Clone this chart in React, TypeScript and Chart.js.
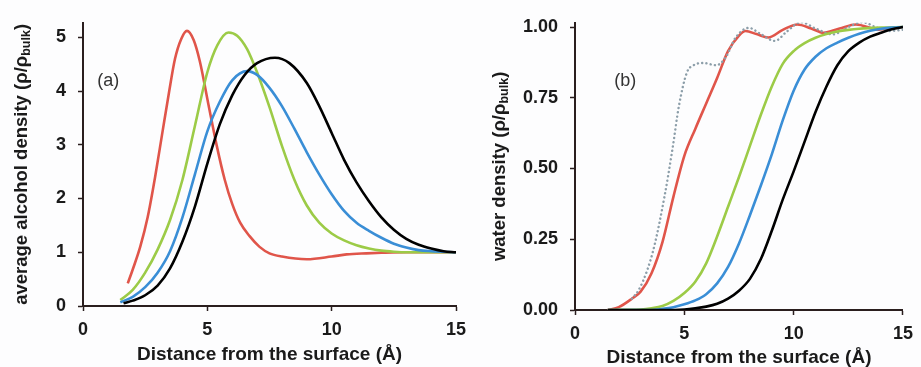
import React, { useEffect, useRef } from "react";
import { Chart, registerables } from "chart.js";

Chart.register(...registerables);

// ---------- shared ticks ----------
const X_TICKS = [0, 5, 10, 15];
const ALC_Y_TICKS = [0, 1, 2, 3, 4, 5];
const WAT_Y_TICKS = [0, 0.25, 0.5, 0.75, 1.0];

// ---------- Panel (a): average alcohol density ----------
const ALC_RED_X = [1.8, 2.0, 2.3, 2.6, 2.9, 3.2, 3.45, 3.7, 3.95, 4.18, 4.45, 4.7, 5.04, 5.38, 5.7, 6.0, 6.32, 6.7, 7.1, 7.5, 8.0, 9.0, 10.0, 10.6, 11.4, 12.0, 13.0, 14.0, 15.0];
const ALC_RED_Y = [0.42, 0.68, 1.1, 1.65, 2.4, 3.25, 3.95, 4.6, 4.97, 5.12, 4.95, 4.55, 3.76, 2.98, 2.35, 1.9, 1.55, 1.3, 1.1, 0.98, 0.92, 0.87, 0.92, 0.96, 0.98, 0.99, 1.0, 1.0, 1.0];

const ALC_GREEN_X = [1.5, 2.0, 2.5, 3.0, 3.5, 4.0, 4.5, 5.0, 5.4, 5.85, 6.2, 6.6, 7.0, 7.5, 8.0, 8.5, 9.0, 9.5, 10.0, 10.5, 11.0, 11.5, 12.0, 12.5, 13.0, 15.0];
const ALC_GREEN_Y = [0.11, 0.3, 0.62, 1.05, 1.6, 2.35, 3.35, 4.35, 4.85, 5.09, 5.03, 4.78, 4.35, 3.7, 2.98, 2.35, 1.87, 1.55, 1.35, 1.22, 1.13, 1.07, 1.03, 1.01, 1.0, 1.0];

const ALC_BLUE_X = [1.5, 2.0, 2.5, 3.0, 3.5, 4.0, 4.5, 5.0, 5.5, 6.0, 6.6, 7.0, 7.5, 8.0, 8.5, 9.0, 9.5, 10.0, 10.5, 11.0, 11.5, 12.0, 12.5, 13.0, 13.5, 14.0, 15.0];
const ALC_BLUE_Y = [0.07, 0.17, 0.35, 0.62, 1.02, 1.65, 2.45, 3.25, 3.8, 4.2, 4.37, 4.3, 4.06, 3.72, 3.3, 2.86, 2.45, 2.08, 1.77, 1.55, 1.4, 1.27, 1.16, 1.09, 1.04, 1.02, 1.0];

const ALC_BLACK_X = [1.63, 2.0, 2.5, 3.0, 3.5, 4.0, 4.5, 5.0, 5.5, 6.0, 6.5, 7.0, 7.72, 8.3, 9.0, 9.5, 10.0, 10.5, 11.0, 11.5, 12.0, 12.5, 13.0, 13.5, 14.0, 14.5, 15.0];
const ALC_BLACK_Y = [0.05, 0.1, 0.2, 0.38, 0.7, 1.2, 1.85, 2.65, 3.38, 3.92, 4.3, 4.52, 4.62, 4.52, 4.15, 3.72, 3.22, 2.72, 2.3, 1.95, 1.65, 1.42, 1.25, 1.14, 1.07, 1.02, 1.0];

// ---------- Panel (b): water density ----------
const W_RED_X = [1.5, 2.0, 2.6, 3.0, 3.5, 4.0, 4.5, 5.0, 5.5, 6.0, 6.5, 7.0, 7.5, 7.8, 8.3, 8.84, 9.5, 10.17, 10.8, 11.36, 12.1, 12.85, 13.89, 14.5, 15.0];
const W_RED_Y = [0.0, 0.01, 0.04, 0.065, 0.13, 0.24, 0.4, 0.545, 0.64, 0.73, 0.82, 0.915, 0.97, 0.986, 0.975, 0.963, 0.99, 1.009, 0.995, 0.98, 0.995, 1.009, 0.991, 0.995, 1.0];

const W_DOT_X = [2.6, 2.9, 3.3, 3.64, 4.09, 4.46, 4.75, 5.12, 5.42, 5.87, 6.46, 6.9, 7.35, 7.95, 8.5, 9.14, 9.7, 10.33, 11.0, 11.8, 12.5, 13.15, 13.8, 14.33, 15.0];
const W_DOT_Y = [0.04, 0.069, 0.14, 0.23, 0.4, 0.57, 0.72, 0.84, 0.865, 0.873, 0.865, 0.894, 0.963, 0.997, 0.975, 0.951, 0.985, 1.017, 0.995, 0.974, 1.0, 1.017, 0.998, 0.986, 0.99];

const W_GREEN_X = [1.5, 3.0, 3.5, 4.0, 4.5, 5.0, 5.5, 6.0, 6.5, 7.0, 7.5, 8.0, 8.5, 9.0, 9.5, 10.0, 10.5, 11.0, 11.5, 12.0, 12.5, 13.0, 14.0, 15.0];
const W_GREEN_Y = [0.0, 0.002, 0.006, 0.014, 0.032, 0.06, 0.1, 0.165, 0.26, 0.365, 0.47, 0.58, 0.69, 0.79, 0.87, 0.915, 0.943, 0.962, 0.975, 0.984, 0.99, 0.994, 0.998, 1.0];

const W_BLUE_X = [1.5, 3.5, 4.0, 4.5, 5.0, 5.5, 6.0, 6.5, 7.0, 7.5, 8.0, 8.5, 9.0, 9.5, 10.0, 10.5, 11.0, 11.5, 12.0, 12.5, 13.0, 13.5, 14.0, 14.5, 15.0];
const W_BLUE_Y = [0.0, 0.0, 0.004, 0.01, 0.02, 0.034, 0.056, 0.094, 0.152, 0.235, 0.335, 0.44, 0.55, 0.67, 0.775, 0.85, 0.895, 0.925, 0.945, 0.962, 0.976, 0.987, 0.994, 0.998, 1.0];

const W_BLACK_X = [1.5, 4.0, 5.0, 5.5, 6.0, 6.5, 7.0, 7.5, 8.0, 8.5, 9.0, 9.5, 10.0, 10.5, 11.0, 11.5, 12.0, 12.5, 13.0, 13.5, 14.0, 14.5, 15.0];
const W_BLACK_Y = [0.0, 0.0, 0.002, 0.006, 0.012, 0.022, 0.04, 0.068, 0.11, 0.18, 0.28, 0.39, 0.49, 0.595, 0.7, 0.79, 0.865, 0.915, 0.945, 0.966, 0.98, 0.992, 1.0];

const X_TITLE = "Distance from the surface (Å)";
const ALC_TITLE = ["average alcohol density (ρ/ρ", "bulk", ")"];
const WAT_TITLE = ["water density (ρ/ρ", "bulk", ")"];

const RED = "#e0554a";
const GREEN = "#9ccb47";
const BLUE = "#3a8ed6";
const BLACK = "#000000";
const DOT = "#8c9ea9";
const AXIS = "#2a1e1e";
const TEXT = "#1a1a1a";
const FONT = "'Liberation Sans', Arial, Helvetica, sans-serif";

const pts = (xs: number[], ys: number[]) => xs.map((x, i) => ({ x, y: ys[i] }));

const line = (xs: number[], ys: number[], color: string, dotted = false) => ({
  data: pts(xs, ys),
  borderColor: color,
  backgroundColor: color,
  borderWidth: dotted ? 2.4 : 2.6,
  borderDash: dotted ? [0.1, 4.2] : [],
  borderCapStyle: dotted ? "round" : "butt",
  borderJoinStyle: "round",
  pointRadius: 0,
  fill: false,
  cubicInterpolationMode: "monotone",
});

const titlePlugin = {
  id: "yTitleSub",
  afterDraw(chart: any, _args: any, opts: any) {
    const { ctx, chartArea } = chart;
    const [main, sub, tail] = opts.parts as string[];
    const mainFont = `bold 18.5px ${FONT}`;
    const subFont = `bold 12.5px ${FONT}`;
    ctx.save();
    ctx.translate(opts.x, (chartArea.top + chartArea.bottom) / 2);
    ctx.rotate(-Math.PI / 2);
    ctx.font = mainFont;
    const w1 = ctx.measureText(main).width;
    const w3 = ctx.measureText(tail).width;
    ctx.font = subFont;
    const w2 = ctx.measureText(sub).width;
    let cx = -(w1 + w2 + w3) / 2;
    ctx.textAlign = "left";
    ctx.textBaseline = "middle";
    ctx.fillStyle = TEXT;
    ctx.font = mainFont;
    ctx.fillText(main, cx, 0);
    cx += w1;
    ctx.font = subFont;
    ctx.fillText(sub, cx, 5);
    cx += w2;
    ctx.font = mainFont;
    ctx.fillText(tail, cx, 0);
    ctx.restore();

    const xs = chart.scales.x;
    const ys = chart.scales.y;
    ctx.save();
    ctx.font = `18px ${FONT}`;
    ctx.fillStyle = "#333333";
    ctx.textAlign = "center";
    ctx.textBaseline = "middle";
    ctx.fillText(opts.label, xs.getPixelForValue(opts.labelX), ys.getPixelForValue(opts.labelY));
    ctx.restore();
  },
};

function makeConfig(p: {
  datasets: any[];
  yMax: number;
  yTicks: number[];
  yFmt: (v: number) => string;
  yWidth: number;
  xHeight: number;
  padRight: number;
  titleX: number;
  titleParts: string[];
  titlePadBottom: number;
  label: string;
  labelX: number;
  labelY: number;
}) {
  return {
    type: "line",
    data: { datasets: p.datasets },
    plugins: [titlePlugin],
    options: {
      animation: false,
      responsive: false,
      maintainAspectRatio: false,
      events: [],
      layout: { padding: { top: 15, right: p.padRight, left: 0, bottom: 0 } },
      plugins: {
        legend: { display: false },
        tooltip: { enabled: false },
        yTitleSub: { x: p.titleX, parts: p.titleParts, label: p.label, labelX: p.labelX, labelY: p.labelY },
      },
      scales: {
        x: {
          type: "linear",
          min: 0,
          max: 15,
          afterBuildTicks: (s: any) => {
            s.ticks = X_TICKS.map((v) => ({ value: v }));
          },
          afterFit: (s: any) => {
            s.height = p.xHeight;
          },
          grid: { drawOnChartArea: false, tickLength: 5, tickColor: AXIS, tickWidth: 1.5, color: AXIS },
          border: { color: AXIS, width: 2 },
          ticks: { color: TEXT, padding: 8, font: { family: FONT, size: 18, weight: "bold" } },
          title: {
            display: true,
            text: X_TITLE,
            color: TEXT,
            font: { family: FONT, size: 19, weight: "bold", lineHeight: 1 },
            padding: { top: 0, bottom: p.titlePadBottom },
          },
        },
        y: {
          type: "linear",
          min: 0,
          max: p.yMax,
          afterBuildTicks: (s: any) => {
            s.ticks = p.yTicks.map((v) => ({ value: v }));
          },
          afterFit: (s: any) => {
            s.width = p.yWidth;
          },
          grid: { drawOnChartArea: false, tickLength: 5, tickColor: AXIS, tickWidth: 1.5, color: AXIS },
          border: { color: AXIS, width: 2 },
          ticks: {
            color: TEXT,
            padding: 12,
            font: { family: FONT, size: 18, weight: "bold" },
            callback: (v: any) => p.yFmt(Number(v)),
          },
        },
      },
    },
  };
}

export default function App() {
  const leftRef = useRef<HTMLCanvasElement | null>(null);
  const rightRef = useRef<HTMLCanvasElement | null>(null);

  useEffect(() => {
    if (!leftRef.current || !rightRef.current) return;
    const left = new Chart(
      leftRef.current,
      makeConfig({
        datasets: [
          line(ALC_BLACK_X, ALC_BLACK_Y, BLACK),
          line(ALC_BLUE_X, ALC_BLUE_Y, BLUE),
          line(ALC_GREEN_X, ALC_GREEN_Y, GREEN),
          line(ALC_RED_X, ALC_RED_Y, RED),
        ],
        yMax: 5.27,
        yTicks: ALC_Y_TICKS,
        yFmt: (v) => String(v),
        yWidth: 83,
        xHeight: 61,
        padRight: 19,
        titleX: 22,
        titleParts: ALC_TITLE,
        titlePadBottom: 2.5,
        label: "(a)",
        labelX: 1.02,
        labelY: 4.18,
      }) as any
    );
    const right = new Chart(
      rightRef.current,
      makeConfig({
        datasets: [
          line(W_BLACK_X, W_BLACK_Y, BLACK),
          line(W_BLUE_X, W_BLUE_Y, BLUE),
          line(W_GREEN_X, W_GREEN_Y, GREEN),
          line(W_DOT_X, W_DOT_Y, DOT, true),
          line(W_RED_X, W_RED_Y, RED),
        ],
        yMax: 1.015,
        yTicks: WAT_Y_TICKS,
        yFmt: (v) => v.toFixed(2),
        yWidth: 115,
        xHeight: 57,
        padRight: 10,
        titleX: 40,
        titleParts: WAT_TITLE,
        titlePadBottom: 0,
        label: "(b)",
        labelX: 2.3,
        labelY: 0.81,
      }) as any
    );
    return () => {
      left.destroy();
      right.destroy();
    };
  }, []);

  return (
    <div
      style={{
        position: "fixed",
        left: 0,
        top: 0,
        width: 921,
        height: 367,
        background: "#fdfdfe",
        overflow: "hidden",
      }}
    >
      <canvas
        ref={leftRef}
        width={475}
        height={367}
        style={{ position: "absolute", left: 0, top: 0, width: 475, height: 367 }}
      />
      <canvas
        ref={rightRef}
        width={461}
        height={367}
        style={{ position: "absolute", left: 460, top: 0, width: 461, height: 367 }}
      />
    </div>
  );
}
